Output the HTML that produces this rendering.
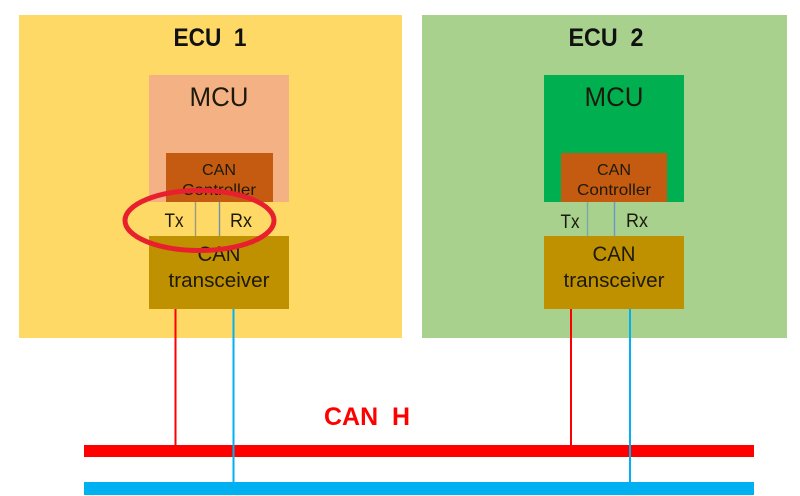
<!DOCTYPE html>
<html>
<head>
<meta charset="utf-8">
<style>
html,body{margin:0;padding:0;background:#fff;width:800px;height:496px;overflow:hidden}
svg{display:block}
text{font-family:"Liberation Sans",sans-serif;text-anchor:middle;fill:#1d1a0c}
</style>
</head>
<body>
<svg width="800" height="496" viewBox="0 0 800 496" xmlns="http://www.w3.org/2000/svg">
<rect width="800" height="496" fill="#fff"/>
<rect x="19" y="15" width="383" height="323" fill="#ffd966"/>
<rect x="422" y="15" width="365" height="323" fill="#a9d18e"/>

<rect x="149" y="75" width="140" height="127" fill="#f4b183"/>
<rect x="166" y="153" width="107" height="49" fill="#c55a11"/>
<rect x="149" y="236" width="140" height="73" fill="#bf9000"/>

<rect x="544" y="75" width="140" height="127" fill="#00b050"/>
<rect x="561" y="153" width="106" height="49" fill="#c55a11"/>
<rect x="544" y="236" width="140" height="73" fill="#bf9000"/>

<line x1="195.5" y1="202" x2="195.5" y2="236" stroke="#9c9a7c" stroke-width="1.4"/>
<line x1="219.5" y1="202" x2="219.5" y2="236" stroke="#7391a8" stroke-width="1.4"/>
<line x1="587.5" y1="202" x2="587.5" y2="236" stroke="#7aa8a8" stroke-width="1.4"/>
<line x1="614.5" y1="202" x2="614.5" y2="236" stroke="#6696cc" stroke-width="1.4"/>

<rect x="84" y="445" width="670" height="12" fill="#ff0000"/>
<rect x="84" y="482" width="670" height="13" fill="#00b0f0"/>
<line x1="175.5" y1="309" x2="175.5" y2="445" stroke="#ff0000" stroke-width="2"/>
<line x1="233.5" y1="309" x2="233.5" y2="482" stroke="#00b0f0" stroke-width="2"/>
<line x1="571" y1="309" x2="571" y2="445" stroke="#ff0000" stroke-width="2"/>
<line x1="630" y1="309" x2="630" y2="482" stroke="#00b0f0" stroke-width="2"/>

<text x="210" y="46" font-size="25" font-weight="bold" textLength="73" lengthAdjust="spacingAndGlyphs" style="fill:#111">ECU&#160;&#160;1</text>
<text x="606" y="46" font-size="25" font-weight="bold" textLength="75" lengthAdjust="spacingAndGlyphs" style="fill:#111">ECU&#160;&#160;2</text>

<text x="219" y="106" font-size="27" textLength="59" lengthAdjust="spacingAndGlyphs">MCU</text>
<text x="614" y="106" font-size="27" textLength="59" lengthAdjust="spacingAndGlyphs">MCU</text>

<text x="219" y="175" font-size="16" textLength="34" lengthAdjust="spacingAndGlyphs">CAN</text>
<text x="219" y="195" font-size="16" textLength="74" lengthAdjust="spacingAndGlyphs">Controller</text>
<text x="614" y="175" font-size="16" textLength="34" lengthAdjust="spacingAndGlyphs">CAN</text>
<text x="614" y="195" font-size="16" textLength="74" lengthAdjust="spacingAndGlyphs">Controller</text>

<text x="174" y="227" font-size="19" textLength="19" lengthAdjust="spacingAndGlyphs">Tx</text>
<text x="241" y="227" font-size="19" textLength="22" lengthAdjust="spacingAndGlyphs">Rx</text>
<text x="570" y="228" font-size="19" textLength="19" lengthAdjust="spacingAndGlyphs">Tx</text>
<text x="637" y="227" font-size="19" textLength="22" lengthAdjust="spacingAndGlyphs">Rx</text>

<text x="219" y="261" font-size="21" textLength="43" lengthAdjust="spacingAndGlyphs">CAN</text>
<text x="219" y="287" font-size="20" textLength="101" lengthAdjust="spacingAndGlyphs">transceiver</text>
<text x="614" y="261" font-size="21" textLength="43" lengthAdjust="spacingAndGlyphs">CAN</text>
<text x="614" y="287" font-size="20" textLength="101" lengthAdjust="spacingAndGlyphs">transceiver</text>

<ellipse cx="199.5" cy="220.5" rx="74.5" ry="30" fill="none" stroke="#e8202e" stroke-width="5"/>

<text x="367" y="425" font-size="25" font-weight="bold" textLength="86" lengthAdjust="spacingAndGlyphs" style="fill:#ff0000">CAN&#160;&#160;H</text>
</svg>
</body>
</html>
